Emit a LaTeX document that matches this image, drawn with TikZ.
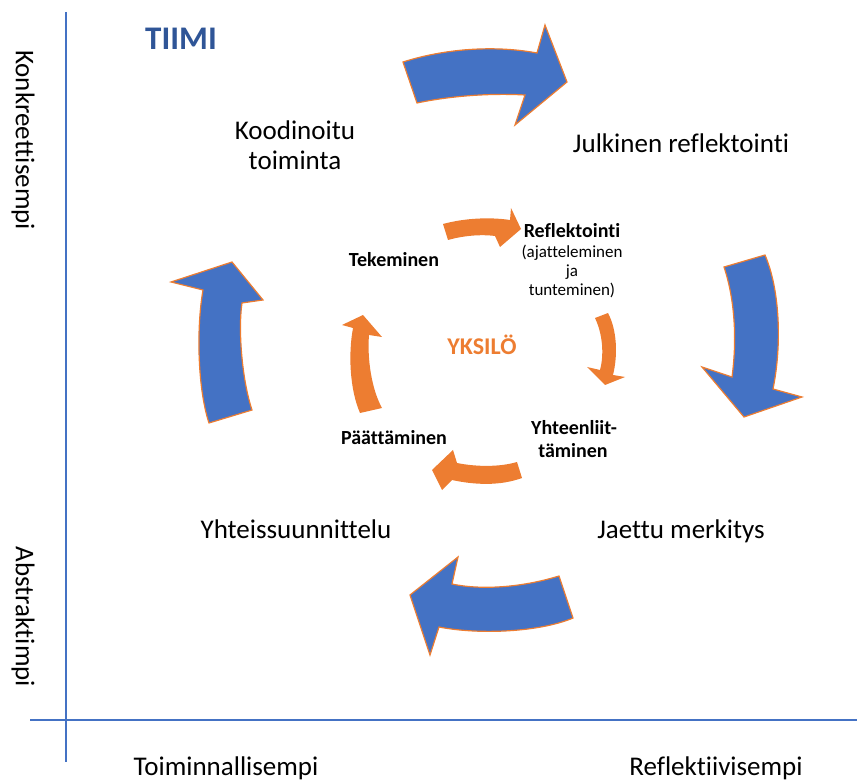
\documentclass[tikz,border=0pt]{standalone}
\usepackage{fontspec}
\setmainfont{Carlito}[Ligatures=NoCommon]
\definecolor{axisblue}{HTML}{4472C4}
\definecolor{teamblue}{HTML}{2F5597}
\definecolor{accent}{HTML}{ED7D31}
\begin{document}
\begin{tikzpicture}[x=1pt,y=-1pt,
  bigarrow/.style={fill=axisblue,draw=accent,line width=1.2pt,line join=miter},
  smallarrow/.style={fill=accent,draw=none},
  axisline/.style={draw=axisblue,line width=2.2pt},
  biglabel/.style={inner sep=0pt,anchor=base,font=\fontsize{27}{32}\selectfont},
  innerlabel/.style={inner sep=0pt,anchor=base,font=\fontsize{20}{24}\selectfont\bfseries},
  notelabel/.style={inner sep=0pt,anchor=base,font=\fontsize{17}{20}\selectfont}]
\useasboundingbox (0,0) rectangle (857,783);

% axes
\draw[axisline] (66,12) -- (66,762);
\draw[axisline] (30,720) -- (857,720);

% axis captions
\node[biglabel,rotate=-90] (konk) at (16,140) {Konkreettisempi};
\node[biglabel,rotate=-90] (abst) at (16,617) {Abstraktimpi};
\node[biglabel] (toim) at (226,775) {Toiminnallisempi};
\node[biglabel] (refl) at (716,775) {Reflektiivisempi};

% team level
\node[inner sep=0pt,anchor=base,text=teamblue,font=\fontsize{33}{38}\selectfont\bfseries] (tiimi) at (181,50) {TIIMI};
\node[biglabel] (koord1) at (295,140) {Koodinoitu};
\node[biglabel] (koord2) at (295,170) {toiminta};
\node[biglabel] (julk) at (681,153) {Julkinen reflektointi};
\node[biglabel] (jaettu) at (681,538) {Jaettu merkitys};
\node[biglabel] (yhteis) at (296,538) {Yhteissuunnittelu};

% team cycle arrows
\filldraw[bigarrow] (403,62) .. controls (450,47) and (500,46) .. (537,53) -- (545,25) -- (567,82) -- (515,125) -- (525,95) .. controls (490,93) and (450,96) .. (417,103) -- cycle;
\filldraw[bigarrow] (724,267) -- (765,255) .. controls (780,290) and (782,345) .. (773,389) -- (802,397) -- (744,417) -- (702,367) -- (732,377) .. controls (737,340) and (735,300) .. (724,267) -- cycle;
\filldraw[bigarrow] (559,576) -- (573,618) .. controls (540,632) and (480,635) .. (439,627) -- (430,655) -- (410,595) -- (458,557) -- (452,584) .. controls (480,590) and (520,588) .. (559,576) -- cycle;
\filldraw[bigarrow] (209,423) .. controls (198,390) and (196,330) .. (203,290) -- (171,282) -- (232,262) -- (263,300) -- (242,303) .. controls (238,330) and (242,380) .. (252,410) -- cycle;

% individual cycle
\node[inner sep=0pt,anchor=base,text=accent,font=\fontsize{24}{28}\selectfont\bfseries] (yksilo) at (482,355) {YKSILÖ};
\node[innerlabel] (tek) at (394,267) {Tekeminen};
\node[innerlabel] (reflek) at (572,238) {Reflektointi};
\node[notelabel] (ajat) at (572,258) {(ajatteleminen};
\node[notelabel] (ja) at (572,277) {ja};
\node[notelabel] (tunt) at (572,296) {tunteminen)};
\node[innerlabel] (yhteen1) at (574,435) {Yhteenliit-};
\node[innerlabel] (yhteen2) at (573,457) {täminen};
\node[innerlabel] (paat) at (394,445) {Päättäminen};

% individual cycle arrows
\fill[smallarrow] (443,224) .. controls (465,218) and (490,217) .. (510,220) -- (511,208) -- (521,229) -- (500,247) -- (495,236) .. controls (480,234) and (462,236) .. (448,240) -- cycle;
\fill[smallarrow] (595,318) -- (608,313) .. controls (617,330) and (618,355) .. (613,375) -- (625,377) -- (605,385) -- (587,367) -- (600,370) .. controls (604,355) and (603,335) .. (595,318) -- cycle;
\fill[smallarrow] (517,462) -- (522,478) .. controls (500,486) and (475,485) .. (452,480) -- (442,490) -- (432,470) -- (453,450) -- (457,463) .. controls (477,467) and (500,467) .. (517,462) -- cycle;
\fill[smallarrow] (360,413) .. controls (350,390) and (348,355) .. (353,328) -- (342,325) -- (363,315) -- (382,337) -- (369,335) .. controls (367,360) and (372,390) .. (382,408) -- cycle;
\end{tikzpicture}
\end{document}
